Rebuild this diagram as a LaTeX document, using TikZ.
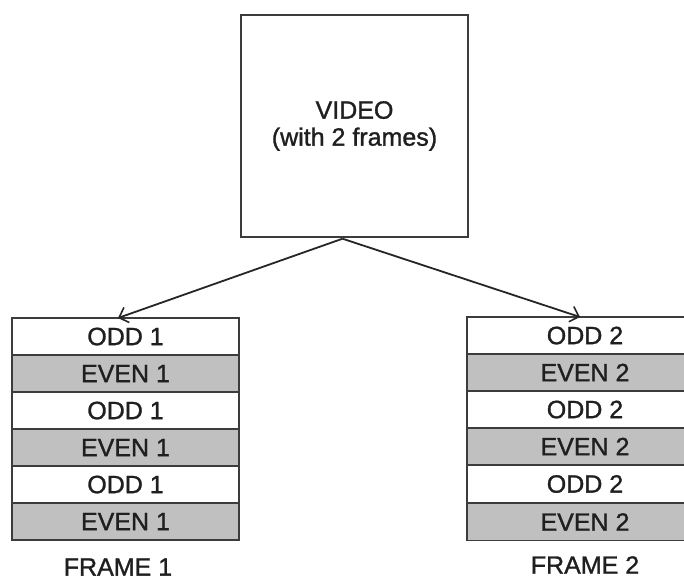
\documentclass[tikz,border=0pt]{standalone}
\usepackage{fontspec}
\setmainfont{Liberation Sans}
\newfontfamily\labelfont[FakeBold=1.2]{Liberation Sans}
\usetikzlibrary{arrows.meta}
\definecolor{rowgray}{RGB}{192,192,192}
\definecolor{edge}{RGB}{60,60,60}
\begin{document}
\begin{tikzpicture}[x=1pt,y=1pt,
  lbl/.style={font=\labelfont\fontsize{25}{28}\selectfont, text=black!88},
  oddrow/.style={lbl, draw=edge, line width=1.4pt, fill=white, minimum height=37pt, inner sep=0pt, outer sep=0pt},
  evenrow/.style={oddrow, fill=rowgray},
  leftrow/.style={minimum width=227pt},
  rightrow/.style={minimum width=236pt},
  link/.style={draw=black!85, line width=1.8pt, -{Straight Barb[length=8pt,width=16pt,line width=1.6pt]}}
]
\clip (0,0) rectangle (684,-581);
\fill[white] (0,0) rectangle (684,-581);

% video box
\node[draw=edge, line width=1.4pt, minimum width=227pt, minimum height=222pt, inner sep=0pt, lbl, align=center]
  (video) at (354.5,-126) {VIDEO\\[-1pt](with 2 frames)};

% left frame: alternating field rows
\node[oddrow, leftrow]  (l1) at (125.5,-336.5) {ODD 1};
\node[evenrow, leftrow] (l2) at (125.5,-373.5) {EVEN 1};
\node[oddrow, leftrow]  (l3) at (125.5,-410.5) {ODD 1};
\node[evenrow, leftrow] (l4) at (125.5,-447.5) {EVEN 1};
\node[oddrow, leftrow]  (l5) at (125.5,-484.5) {ODD 1};
\node[evenrow, leftrow] (l6) at (125.5,-521.5) {EVEN 1};
\node[lbl] (f1) at (118,-567) {FRAME 1};

% right frame: alternating field rows
\node[oddrow, rightrow]  (r1) at (585,-335.5) {ODD 2};
\node[evenrow, rightrow] (r2) at (585,-372.5) {EVEN 2};
\node[oddrow, rightrow]  (r3) at (585,-409.5) {ODD 2};
\node[evenrow, rightrow] (r4) at (585,-446.5) {EVEN 2};
\node[oddrow, rightrow]  (r5) at (585,-484) {ODD 2};
\node[evenrow, rightrow] (r6) at (585,-522) {EVEN 2};
\node[lbl] (f2) at (585,-565) {FRAME 2};

% split arrows
\coordinate (apex) at ([xshift=-12pt,yshift=-1pt]video.south);
\draw[link] (apex) -- ([xshift=-7.5pt]l1.north);
\draw[link] (apex) -- ([xshift=-5pt]r1.north);
\end{tikzpicture}
\end{document}
